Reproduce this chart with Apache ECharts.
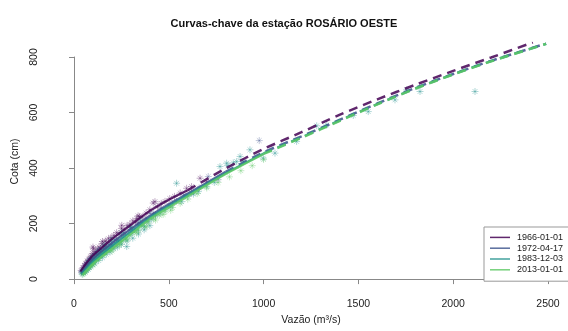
<!DOCTYPE html>
<html>
<head>
<meta charset="utf-8">
<script src="https://cdn.jsdelivr.net/npm/echarts@6/dist/echarts.min.js"></script>
<style>
  html, body { margin: 0; padding: 0; background: #fff; }
  #main { width: 568px; height: 331px; }
</style>
</head>
<body>
<div id="main"></div>
<script type="text/javascript">
// periodos (legenda)
var periods = ['1966-01-01', '1972-04-17', '1983-12-03', '2013-01-01'];
var xTicks = [0, 500, 1000, 1500, 2000, 2500];
var yTicks = [0, 200, 400, 600, 800];

// curvas-chave [vazao, cota]
var curve1966 = [[35,30],[60,55],[100,88],[150,118],[200,147],[300,198],[400,248],[500,288],[600,322],[800,400],[1000,470],[1200,530],[1400,592],[1600,648],[1800,700],[2000,750],[2200,798],[2420,852]];
var curve1972 = [[40,25],[100,75],[200,132],[300,183],[400,230],[500,272],[600,310],[800,388],[1000,458],[1200,515],[1400,574],[1600,633],[1800,689],[2000,739],[2200,786],[2490,848]];
var curve1983 = [[40,20],[100,65],[200,122],[300,174],[400,224],[500,266],[600,305],[800,383],[1000,454],[1200,512],[1400,572],[1600,631],[1800,687],[2000,738],[2200,785],[2490,847]];
var curve2013 = [[45,18],[100,58],[200,112],[300,165],[400,218],[500,260],[600,300],[800,380],[1000,452],[1200,510],[1400,570],[1600,630],[1800,686],[2000,737],[2200,784],[2490,847]];
// limite do trecho continuo de cada curva
var solidUpTo = [600, 800, 1000, 1000];

// medicoes [vazao, cota]
var obs1966 = [[38,34],[42,30],[47,44],[50,40],[55,52],[58,47],[62,60],[66,56],[70,68],[74,63],[78,75],[83,72],[88,85],[92,80],[97,95],[100,118],[102,112],[106,90],[112,102],[118,98],[125,110],[132,118],[140,112],[148,130],[150,138],[155,122],[165,140],[172,135],[182,148],[195,152],[210,160],[225,170],[238,165],[250,185],[252,196],[265,180],[280,195],[295,200],[310,212],[325,208],[331,221],[338,230],[345,228],[360,226],[380,240],[400,252],[418,276],[427,281],[440,262],[460,275],[480,282],[505,292],[530,300],[560,312],[594,329],[620,335],[665,365],[700,352]];
var obs1972 = [[40,28],[48,36],[55,40],[62,50],[65,58],[70,55],[78,62],[85,70],[90,75],[93,68],[100,80],[108,78],[115,95],[118,92],[126,90],[135,104],[140,110],[145,100],[158,115],[165,120],[170,112],[185,128],[195,138],[200,125],[215,145],[225,150],[232,142],[250,160],[260,170],[270,165],[290,180],[300,188],[310,176],[335,198],[340,205],[360,205],[380,222],[383,212],[401,239],[420,240],[430,235],[460,258],[500,268],[520,275],[540,282],[580,305],[620,312],[660,330],[708,371],[760,360],[977,500]];
var obs1983 = [[42,22],[45,30],[50,26],[53,35],[57,31],[60,40],[60,28],[64,36],[67,45],[71,42],[75,50],[75,38],[79,47],[80,70],[82,58],[86,52],[90,62],[90,48],[94,58],[98,70],[100,85],[103,64],[107,75],[110,58],[112,70],[117,82],[122,78],[128,90],[130,70],[130,105],[133,85],[139,96],[145,92],[150,80],[152,104],[158,99],[160,125],[165,110],[170,92],[172,106],[180,118],[188,113],[190,100],[196,126],[200,145],[205,120],[210,112],[215,133],[225,128],[230,118],[235,140],[248,137],[250,128],[250,170],[260,152],[272,147],[278,120],[280,140],[290,162],[300,190],[305,170],[310,150],[320,182],[338,178],[340,165],[350,215],[355,195],[370,180],[372,192],[390,210],[400,195],[410,218],[430,230],[455,240],[480,252],[510,262],[541,347],[568,281],[600,300],[630,308],[656,317],[700,335],[740,350],[770,407],[805,419],[812,410],[840,420],[858,425],[876,443],[893,425],[928,467],[998,437],[1060,455],[1174,497],[1280,553],[1333,556],[1473,590],[1552,604],[1693,646],[1755,682],[1825,676],[2115,676]];
var obs2013 = [[46,20],[52,24],[58,30],[60,34],[64,36],[70,40],[76,46],[80,44],[82,50],[88,55],[95,58],[100,54],[102,62],[110,68],[118,74],[126,80],[130,76],[135,86],[145,92],[155,98],[160,92],[163,97],[175,106],[190,108],[200,104],[205,115],[220,122],[238,130],[240,125],[255,140],[275,150],[280,145],[295,160],[318,172],[330,170],[340,180],[365,195],[380,190],[390,205],[420,220],[430,215],[450,232],[470,235],[480,245],[510,250],[520,260],[560,275],[600,290],[650,310],[700,330],[760,350],[820,370],[880,392],[940,410],[1000,432]];

var lineColors = ['rgba(68,1,84,0.85)', 'rgba(59,82,139,0.85)', 'rgba(33,144,140,0.85)', 'rgba(93,200,99,0.85)'];
var pointColors = ['rgba(68,1,84,0.4)', 'rgba(59,82,139,0.4)', 'rgba(33,144,140,0.45)', 'rgba(93,200,99,0.45)'];
var curves = [curve1966, curve1972, curve1983, curve2013];
var obs = [obs1966, obs1972, obs1983, obs2013];

var FONT = 'Liberation Sans, Arial, sans-serif';
var star = 'path://M0,5L10,5M5,0L5,10M1.6,1.6L8.4,8.4M8.4,1.6L1.6,8.4';

var myChart = echarts.init(document.getElementById('main'));
var series = [];

// pontos primeiro, curvas por cima
for (var i = 0; i < 4; i++) {
	series.push({
		name: 'obs ' + periods[i],
		type: 'scatter',
		xAxisIndex: 0, yAxisIndex: 0,
		data: obs[i],
		symbol: star,
		symbolSize: 7,
		silent: true,
		itemStyle: { color: 'none', borderColor: pointColors[i], borderWidth: 1 }
	});
}
for (var i = 0; i < 4; i++) {
	var cut = solidUpTo[i];
	series.push({
		name: periods[i],
		type: 'line',
		xAxisIndex: 0, yAxisIndex: 0,
		data: curves[i].filter(function (p) { return p[0] <= cut; }),
		smooth: 0.3,
		showSymbol: false,
		color: lineColors[i],
		lineStyle: { width: 2.2, color: lineColors[i] }
	});
	series.push({
		name: periods[i],
		type: 'line',
		xAxisIndex: 0, yAxisIndex: 0,
		data: curves[i].filter(function (p) { return p[0] >= cut; }),
		smooth: 0.3,
		showSymbol: false,
		color: lineColors[i],
		lineStyle: { width: 2.5, color: lineColors[i], type: [9, 6] }
	});
}

var option = {
	animation: false,
	backgroundColor: '#fff',
	textStyle: { fontFamily: FONT },
	title: {
		text: 'Curvas-chave da estação ROSÁRIO OESTE',
		left: 'center',
		top: 13,
		textStyle: { fontFamily: FONT, fontSize: 11, fontWeight: 'bold', color: '#111' }
	},
	legend: {
		data: periods,
		orient: 'vertical',
		left: 484,
		top: 227,
		padding: [5, 40, 6, 6],
		itemWidth: 20,
		itemHeight: 1.5,
		itemGap: 0,
		icon: 'rect',
		borderColor: '#999',
		borderWidth: 1,
		backgroundColor: '#fff',
		textStyle: { fontFamily: FONT, fontSize: 9, lineHeight: 10.8, color: '#222', padding: [0, 0, 0, 2] }
	},
	grid: [
		{ left: 74, right: 20, top: 43, bottom: 51 },
		{ left: 74, right: 20, top: 57, bottom: 51 }
	],
	xAxis: [
		{ gridIndex: 0, type: 'value', min: 0, max: 2500, show: false },
		{
			gridIndex: 1, type: 'value', min: xTicks[0], max: xTicks[xTicks.length - 1], interval: 500,
			offset: 3,
			name: 'Vazão (m³/s)', nameLocation: 'middle', nameGap: 24,
			nameTextStyle: { fontFamily: FONT, fontSize: 10.5, color: '#222' },
			axisLine: { lineStyle: { color: '#888', width: 1 } },
			axisTick: { length: 5, lineStyle: { color: '#888' } },
			axisLabel: { margin: 17, fontFamily: FONT, fontSize: 10.5, color: '#222',
				formatter: function (v) { return String(v); } },
			splitLine: { show: false }
		}
	],
	yAxis: [
		{
			gridIndex: 0, type: 'value', min: 0, max: 850,
			axisLine: { show: false }, axisTick: { show: false }, axisLabel: { show: false }, splitLine: { show: false },
			name: 'Cota (cm)', nameLocation: 'middle', nameGap: 53,
			nameTextStyle: { fontFamily: FONT, fontSize: 10.5, color: '#222' }
		},
		{
			gridIndex: 1, type: 'value', min: yTicks[0], max: yTicks[yTicks.length - 1], interval: 200,
			offset: 19,
			axisLine: { show: true, lineStyle: { color: '#888', width: 1 } },
			axisTick: { show: true, length: 5, lineStyle: { color: '#888' } },
			axisLabel: { rotate: 90, margin: 15, fontFamily: FONT, fontSize: 10.5, color: '#222',
				formatter: function (v) { return String(v); } },
			splitLine: { show: false }
		}
	],
	series: series
};
myChart.setOption(option);
</script>
</body>
</html>
